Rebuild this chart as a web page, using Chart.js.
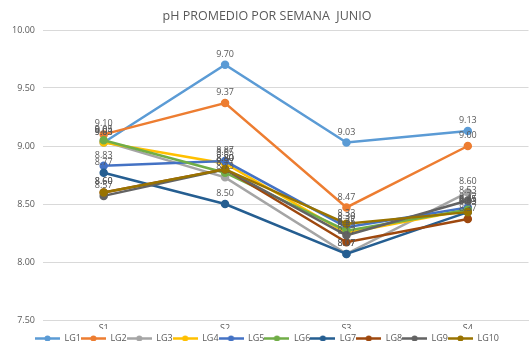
<!DOCTYPE html>
<html>
<head>
<meta charset="utf-8">
<script src="https://cdn.jsdelivr.net/npm/chart.js@4/dist/chart.umd.min.js"></script>
<style>
  html, body { margin: 0; padding: 0; background: #fff; overflow: hidden; }
  #wrap { width: 534px; height: 341px; }
</style>
</head>
<body>
<div id="wrap"><canvas id="phChart"></canvas></div>
<script>
// weekly categories
const weeks = ['S1', 'S2', 'S3', 'S4'];
const seriesNames = ['LG1', 'LG2', 'LG3', 'LG4', 'LG5', 'LG6', 'LG7', 'LG8', 'LG9', 'LG10'];
const seriesColors = ['#5B9BD5', '#ED7D31', '#A5A5A5', '#FFC000', '#4472C4', '#70AD47', '#255E91', '#9E480E', '#636363', '#997300'];

// average pH per week for each group
const lg1 = [9.03, 9.70, 9.03, 9.13];
const lg2 = [9.10, 9.37, 8.47, 9.00];
const lg3 = [9.04, 8.73, 8.07, 8.60];
const lg4 = [9.03, 8.85, 8.25, 8.45];
const lg5 = [8.83, 8.87, 8.30, 8.47];
const lg6 = [9.05, 8.77, 8.27, 8.45];
const lg7 = [8.77, 8.50, 8.07, 8.43];
const lg8 = [8.60, 8.80, 8.17, 8.37];
const lg9 = [8.57, 8.80, 8.23, 8.53];
const lg10 = [8.60, 8.80, 8.33, 8.43];
const seriesValues = [lg1, lg2, lg3, lg4, lg5, lg6, lg7, lg8, lg9, lg10];

const yTicks = { min: 7.5, max: 10, step: 0.5 };

// small line+dot swatch used in the legend
function makeSwatch(color) {
    const c = document.createElement('canvas');
    c.width = 25; c.height = 7;
    const g = c.getContext('2d');
    g.strokeStyle = color;
    g.lineWidth = 2.5;
    g.beginPath(); g.moveTo(0, 3.5); g.lineTo(25, 3.5); g.stroke();
    g.fillStyle = color;
    g.beginPath(); g.arc(12.5, 3.5, 3, 0, Math.PI * 2); g.fill();
    return c;
}
const swatches = seriesColors.map(makeSwatch);

// draws the value above every point
const valueLabels = {
    id: 'valueLabels',
    afterDatasetsDraw(chart) {
        const ctx = chart.ctx;
        ctx.save();
        ctx.font = '9px "Open Sans", sans-serif';
        ctx.fillStyle = '#595959';
        ctx.textAlign = 'center';
        ctx.textBaseline = 'bottom';
        chart.data.datasets.forEach((ds, i) => {
            const meta = chart.getDatasetMeta(i);
            meta.data.forEach((pt, j) => {
                ctx.fillText(ds.data[j].toFixed(2), pt.x, pt.y - 6);
            });
        });
        ctx.restore();
    }
};

// legend sits a little lower, right under the week labels
const legendNudge = {
    id: 'legendNudge',
    afterLayout(chart) {
        if (!chart.legend) return;
        chart.legend.top += 5;
        chart.legend.bottom += 5;
    }
};

const datasets = seriesNames.map((name, i) => ({
    label: name,
    data: seriesValues[i],
    borderColor: seriesColors[i],
    backgroundColor: seriesColors[i],
    borderWidth: 2.5,
    pointRadius: 3,
    pointHoverRadius: 3,
    tension: 0,
    order: -i
}));

new Chart(document.getElementById('phChart'), {
    type: 'line',
    data: { labels: weeks, datasets: datasets },
    options: {
        responsive: true,
        maintainAspectRatio: false,
        animation: false,
        layout: { padding: { left: 0, right: 0, top: 0, bottom: 0 } },
        plugins: {
            title: {
                display: true,
                text: 'pH PROMEDIO POR SEMANA  JUNIO',
                color: '#595959',
                font: { family: '"Open Sans", sans-serif', size: 12.5, weight: 'normal' },
                padding: { top: 9, bottom: 6 }
            },
            legend: {
                position: 'bottom',
                maxHeight: 12,
                labels: {
                    color: '#595959',
                    font: { family: '"Open Sans", sans-serif', size: 9 },
                    usePointStyle: true,
                    pointStyleWidth: 25,
                    boxHeight: 7,
                    padding: 0,
                    sort: (a, b) => a.datasetIndex - b.datasetIndex,
                    generateLabels(chart) {
                        const items = Chart.defaults.plugins.legend.labels.generateLabels(chart);
                        items.forEach(it => { it.pointStyle = swatches[it.datasetIndex]; });
                        return items;
                    }
                }
            },
            tooltip: { enabled: false }
        },
        scales: {
            x: {
                offset: true,
                grid: { display: false, drawTicks: false },
                border: { color: '#d9d9d9' },
                ticks: { color: '#595959', font: { family: '"Open Sans", sans-serif', size: 9 }, padding: 3 },
                afterFit(scale) { scale.height = 9; }
            },
            y: {
                min: yTicks.min,
                max: yTicks.max,
                border: { display: false },
                grid: { color: '#d9d9d9', drawTicks: false },
                ticks: {
                    stepSize: yTicks.step,
                    color: '#595959',
                    font: { family: '"Open Sans", sans-serif', size: 9 },
                    padding: 8,
                    callback: v => v.toFixed(2)
                },
                afterFit(scale) { scale.width = 43; }
            }
        }
    },
    plugins: [valueLabels, legendNudge]
});
</script>
</body>
</html>
